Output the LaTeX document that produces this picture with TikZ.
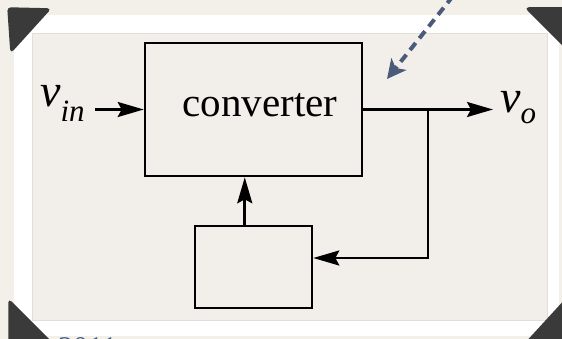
\documentclass[tikz,border=0pt]{standalone}
\usepackage{fontspec}
\setmainfont{Liberation Serif}
\newfontfamily\tnr{Liberation Serif}
\usetikzlibrary{arrows.meta,calc}
\definecolor{bgout}{HTML}{F3F0EA}
\definecolor{bgin}{HTML}{F2EFEA}
\definecolor{panelline}{HTML}{E2DFD9}
\definecolor{cornerc}{HTML}{3A3A3A}
\definecolor{dashc}{HTML}{4A5A78}
\tikzset{
  blk/.style={draw=black, line width=2.6pt, inner sep=0pt, fill=none},
  wire/.style={draw=black, line width=2.6pt},
  arr/.style={wire, -{Stealth[length=26pt, width=15pt, inset=4pt]}},
  hint/.style={draw=dashc, line width=4pt, dash pattern=on 9pt off 6pt,
    -{Stealth[length=19pt, width=19pt, inset=5pt, fill=dashc]}},
  corner/.style={fill=cornerc, draw=cornerc, line width=1.5pt, rounded corners=3pt},
  lbl/.style={inner sep=0pt, anchor=base west},
  big/.style={font=\tnr\fontsize{41}{41}\selectfont}
}
\begin{document}
\begin{tikzpicture}[x=1pt, y=-1pt]
\useasboundingbox (0,0) rectangle (562,339);
\begin{scope}
\clip (0,0) rectangle (562,339);
% background and frame
\fill[bgout] (0,0) rectangle (562,339);
\fill[white] (14,15) rectangle (559,336);
\filldraw[fill=bgin, draw=panelline, line width=0.8pt] (32,33) rectangle (547,320);
% faint caption text below the frame
\node[lbl, text=dashc, font=\tnr\fontsize{30}{30}\selectfont] (yr) at (58,357) {2011};
% photo corners
\draw[corner] (8,8) -- (50,9) -- (11,52) -- cycle;
\draw[corner] (526,8) -- (582,8) -- (582,64) -- cycle;
\draw[corner] (9,300) -- (9,362) -- (71,362) -- cycle;
\draw[corner] (524,345) -- (568,297) -- (568,345) -- cycle;
% blocks
\node[blk, minimum width=217pt, minimum height=133pt] (conv) at (253.5,109.5) {};
\node[lbl, anchor=base, big] (convtxt) at (260,117) {converter};
\node[blk, minimum width=117pt, minimum height=82pt] (ctrl) at (253.5,267) {};
% labels
\node[lbl, font=\tnr\fontsize{46}{46}\selectfont] (vin) at (40,107) {\itshape v\raisebox{-15pt}{\fontsize{31}{31}\selectfont in}};
\node[lbl, font=\tnr\fontsize{46}{46}\selectfont] (vo) at (500,113) {\itshape v\raisebox{-11pt}{\fontsize{31}{31}\selectfont o}};
% connectors
\coordinate (in0) at (95,109.5);
\coordinate (otip) at (493,109.5);
\coordinate (br) at (428,109.5);
\draw[arr] (in0) -- (conv.west);
\draw[arr] (conv.east) -- (otip);
\draw[arr] (br) |- ([yshift=9pt]ctrl.east);
\coordinate (up0) at ($(ctrl.north west)!0.427!(ctrl.north east)$);
\draw[arr] (up0) -- (up0 |- conv.south);
% dashed pointer
\coordinate (d0) at (453,-4);
\coordinate (d1) at (387,79);
\draw[hint] (d0) -- (d1);
\end{scope}
\end{tikzpicture}
\end{document}
